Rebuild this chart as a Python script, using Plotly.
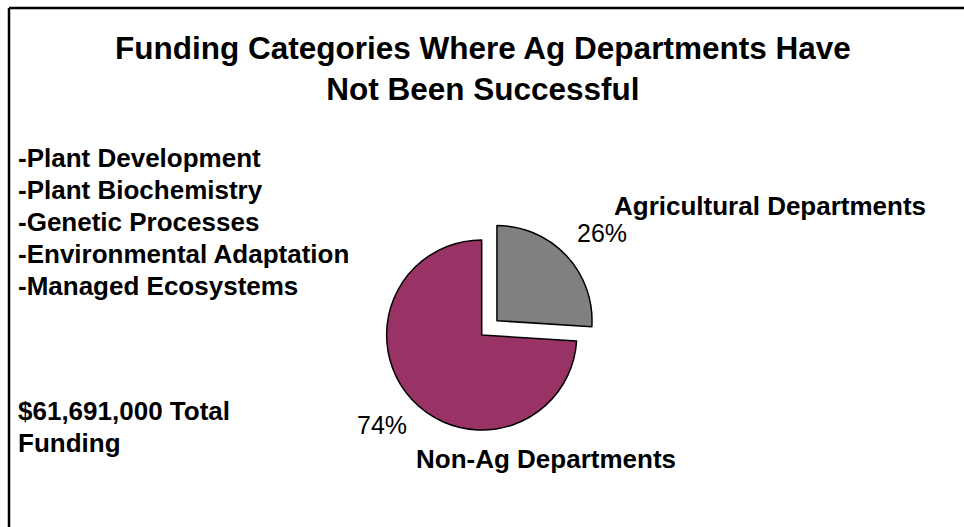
import plotly.graph_objects as go

labels = ["Agricultural Departments", "Non-Ag Departments"]
values = [26, 74]
colors = ["#808080", "#993366"]
pulls = [0.22, 0]
categories_list = ["-Plant Development", "-Plant Biochemistry", "-Genetic Processes",
                   "-Environmental Adaptation", "-Managed Ecosystems"]
total_lines = ["$61,691,000 Total", "Funding"]
title_text = "Funding Categories Where Ag Departments Have<br>Not Been Successful"

W, H = 964, 527
FONT = "Liberation Sans, Arial, sans-serif"

def px(x):
    return x / W

def py(y):
    return 1 - y / H

cx, cy, half = 481.7, 335, 116

fig = go.Figure(go.Pie(
    labels=labels, values=values, sort=False, direction="clockwise", rotation=0,
    pull=pulls, marker=dict(colors=colors, line=dict(color="black", width=1.5)),
    textinfo="none", hoverinfo="label+percent", showlegend=False,
    domain=dict(x=[px(cx - half), px(cx + half)], y=[py(cy + half), py(cy - half)]),
))

total = sum(values)
pct = [f"{round(v / total * 100)}%" for v in values]

TS = 26
PS = 25
ann = []
ann.append(dict(x=px(483), y=py(69), text="<b>" + title_text + "</b>", showarrow=False,
                font=dict(size=31.5, color="black", family=FONT), xanchor="center", yanchor="middle"))
for i, t in enumerate(categories_list):
    ann.append(dict(x=px(16), y=py(158 + 32 * i), text="<b>" + t + "</b>", showarrow=False,
                    font=dict(size=TS, color="black", family=FONT), xanchor="left", yanchor="middle"))
for i, t in enumerate(total_lines):
    ann.append(dict(x=px(16), y=py(411 + 32 * i), text="<b>" + t + "</b>", showarrow=False,
                    font=dict(size=TS, color="black", family=FONT), xanchor="left", yanchor="middle"))
# slice labels
ann.append(dict(x=px(770), y=py(206), text="<b>" + labels[0] + "</b>", showarrow=False,
                font=dict(size=TS, color="black", family=FONT), xanchor="center", yanchor="middle"))
ann.append(dict(x=px(602), y=py(233), text=pct[0], showarrow=False,
                font=dict(size=PS, color="black", family=FONT), xanchor="center", yanchor="middle"))
ann.append(dict(x=px(382), y=py(425), text=pct[1], showarrow=False,
                font=dict(size=PS, color="black", family=FONT), xanchor="center", yanchor="middle"))
ann.append(dict(x=px(546), y=py(459), text="<b>" + labels[1] + "</b>", showarrow=False,
                font=dict(size=TS, color="black", family=FONT), xanchor="center", yanchor="middle"))

shapes = [
    dict(type="line", xref="paper", yref="paper", x0=px(9), x1=1.01, y0=py(8), y1=py(8),
         line=dict(color="black", width=2.5)),
    dict(type="line", xref="paper", yref="paper", x0=px(9), x1=px(9), y0=py(8), y1=-0.01,
         line=dict(color="black", width=2.5)),
]

fig.update_layout(width=W, height=H, margin=dict(l=0, r=0, t=0, b=0),
                  paper_bgcolor="white", plot_bgcolor="white",
                  annotations=ann, shapes=shapes, font=dict(family=FONT))
fig.write_html("out.html")
